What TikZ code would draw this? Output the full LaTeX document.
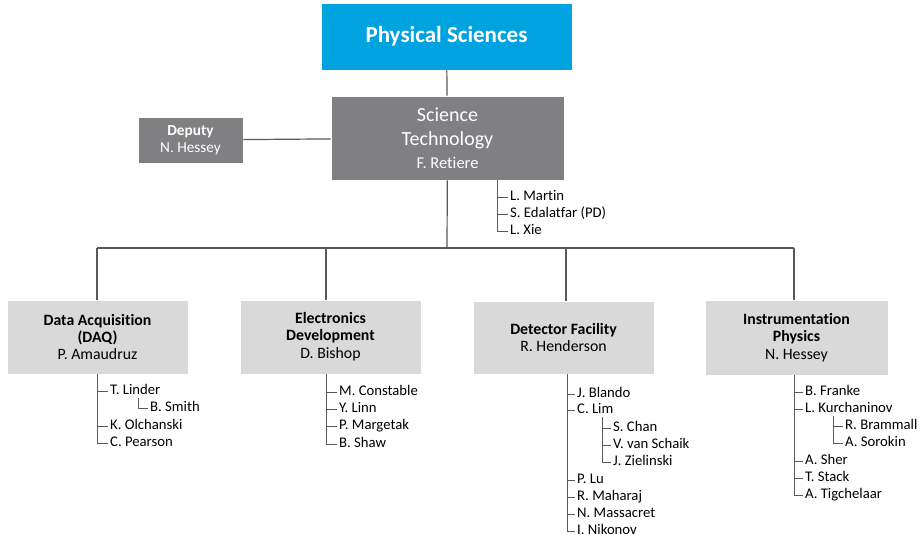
\documentclass[tikz,border=0pt]{standalone}
\usepackage{fontspec}
\setmainfont{Carlito}[Ligatures=NoCommon]
\definecolor{azul}{HTML}{00A3E0}
\definecolor{cinza}{HTML}{808083}
\definecolor{cinzaclaro}{HTML}{D9D9D9}
\definecolor{linha}{HTML}{595959}

\begin{document}
\begin{tikzpicture}[
    x=1pt, y=-1pt,
    % caixas do organograma
    caixa/.style={draw=white, line width=0.6pt, inner sep=0pt, align=center},
    topo/.style={caixa, fill=azul, text=white, font=\bfseries\fontsize{23}{27}\selectfont},
    chefia/.style={caixa, fill=cinza, text=white},
    setor/.style={caixa, fill=cinzaclaro, text=black, font=\fontsize{15.8}{16.8}\selectfont},
    % nomes das equipes
    nome/.style={anchor=west, inner sep=2pt, text height=9pt, text depth=2.5pt, font=\fontsize{14.7}{16}\selectfont},
    % linhas de ligação
    conector/.style={draw=linha, line width=1.2pt},
    ramo/.style={draw=linha, line width=1pt}
]
    \useasboundingbox[fill=white] (0,0) rectangle (919,535);

    % ==========================================
    % 1. CAIXAS PRINCIPAIS
    % ==========================================
    \node[topo, minimum width=251pt, minimum height=67pt] (fisicas) at (446.5,36.5) {Physical Sciences};
    \node[chefia, minimum width=233pt, minimum height=84pt, font=\fontsize{20}{24}\selectfont] (ciencia) at (447.5,138)
        {Science\\Technology\\[-1pt]\fontsize{16.5}{22}\selectfont F. Retiere};
    \node[chefia, minimum width=105pt, minimum height=46pt, font=\fontsize{15.3}{17}\selectfont] (vice) at (190.5,140)
        {\textbf{Deputy}\\N. Hessey};

    \draw[conector] (fisicas) -- (ciencia);
    \draw[conector] (vice) -- (ciencia);

    % ==========================================
    % 2. SETORES
    % ==========================================
    \node[setor, minimum width=181pt, minimum height=74pt] (daq) at (97.5,337)
        {\textbf{Data Acquisition}\\\textbf{(DAQ)}\\P. Amaudruz};
    \node[setor, minimum width=181pt, minimum height=74pt] (eletronica) at (330.5,337)
        {\textbf{Electronics}\\\textbf{Development}\\[1pt]D. Bishop};
    \node[setor, minimum width=181pt, minimum height=73pt] (detector) at (563.5,337.5)
        {\textbf{Detector Facility}\\R. Henderson};
    \node[setor, minimum width=183pt, minimum height=75pt] (instrumentacao) at (796.5,337.5)
        {\textbf{Instrumentation}\\\textbf{Physics}\\[1pt]N. Hessey};

    % barramento horizontal
    \coordinate (barra) at (447,248);
    \coordinate (b1) at (97,248);
    \coordinate (b2) at (326,248);
    \coordinate (b3) at (566,248);
    \coordinate (b4) at (794,248);
    \draw[conector] (ciencia) -- (barra);
    \draw[conector] (b1) -- (b4);
    \draw[conector] (b1) -- (b1 |- daq.north);
    \draw[conector] (b2) -- (b2 |- eletronica.north);
    \draw[conector] (b3) -- (b3 |- detector.north);
    \draw[conector] (b4) -- (b4 |- instrumentacao.north);

    % ==========================================
    % 3. EQUIPES
    % ==========================================
    % Science Technology
    \coordinate (ciencia-r) at (497.5,180);
    \node[nome] (martin) at (508,197) {L. Martin};
    \node[nome] (edalatfar) at (508,214) {S. Edalatfar (PD)};
    \node[nome] (xie) at (508,231) {L. Xie};
    \draw[ramo] (ciencia-r) |- (martin.west) (ciencia-r) |- (edalatfar.west) (ciencia-r) |- (xie.west);

    % DAQ
    \coordinate (daq-r) at (97,374);
    \node[nome] (linder) at (108,391) {T. Linder};
    \node[nome] (smith) at (148,408) {B. Smith};
    \node[nome] (olchanski) at (108,426) {K. Olchanski};
    \node[nome] (pearson) at (108,443) {C. Pearson};
    \draw[ramo] (daq-r) |- (linder.west) (daq-r) |- (olchanski.west) (daq-r) |- (pearson.west);
    \coordinate (linder-r) at (138,398);
    \draw[ramo] (linder-r) |- (smith.west);

    % Electronics Development
    \coordinate (eletronica-r) at (326,374);
    \node[nome] (constable) at (337,392) {M. Constable};
    \node[nome] (linn) at (337,409) {Y. Linn};
    \node[nome] (margetak) at (337,426) {P. Margetak};
    \node[nome] (shaw) at (337,444) {B. Shaw};
    \draw[ramo] (eletronica-r) |- (constable.west) (eletronica-r) |- (linn.west)
        (eletronica-r) |- (margetak.west) (eletronica-r) |- (shaw.west);

    % Detector Facility
    \coordinate (detector-r) at (567,374);
    \node[nome] (blando) at (575,394) {J. Blando};
    \node[nome] (lim) at (575,410) {C. Lim};
    \node[nome] (chan) at (611,428) {S. Chan};
    \node[nome] (schaik) at (611,445) {V. van Schaik};
    \node[nome] (zielinski) at (611,462) {J. Zielinski};
    \node[nome] (lu) at (575,480) {P. Lu};
    \node[nome] (maharaj) at (575,497) {R. Maharaj};
    \node[nome] (massacret) at (575,514) {N. Massacret};
    \node[nome] (nikonov) at (575,531) {I. Nikonov};
    \draw[ramo] (detector-r) |- (blando.west) (detector-r) |- (lim.west) (detector-r) |- (lu.west)
        (detector-r) |- (maharaj.west) (detector-r) |- (massacret.west) (detector-r) |- (nikonov.west);
    \coordinate (lim-r) at (602,417);
    \draw[ramo] (lim-r) |- (chan.west) (lim-r) |- (schaik.west) (lim-r) |- (zielinski.west);

    % Instrumentation Physics
    \coordinate (instrumentacao-r) at (794,375);
    \node[nome] (franke) at (803,392) {B. Franke};
    \node[nome] (kurchaninov) at (803,409) {L. Kurchaninov};
    \node[nome] (brammall) at (843,426) {R. Brammall};
    \node[nome] (sorokin) at (843,443) {A. Sorokin};
    \node[nome] (sher) at (803,461) {A. Sher};
    \node[nome] (stack) at (803,478) {T. Stack};
    \node[nome] (tigchelaar) at (803,495) {A. Tigchelaar};
    \draw[ramo] (instrumentacao-r) |- (franke.west) (instrumentacao-r) |- (kurchaninov.west)
        (instrumentacao-r) |- (sher.west) (instrumentacao-r) |- (stack.west) (instrumentacao-r) |- (tigchelaar.west);
    \coordinate (kurchaninov-r) at (833,416);
    \draw[ramo] (kurchaninov-r) |- (brammall.west) (kurchaninov-r) |- (sorokin.west);

\end{tikzpicture}
\end{document}
